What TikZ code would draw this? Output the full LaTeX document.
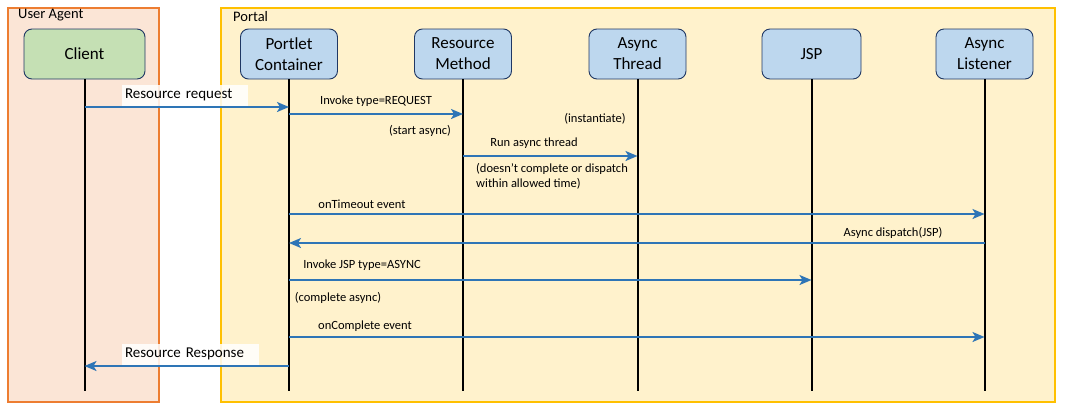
\documentclass[tikz,border=0pt]{standalone}
\usepackage{fontspec}
\setmainfont{Carlito}
\usetikzlibrary{arrows.meta}
\definecolor{uaFill}{HTML}{FBE5D6}
\definecolor{uaLine}{HTML}{ED7D31}
\definecolor{ptFill}{HTML}{FFF2CC}
\definecolor{ptLine}{HTML}{FFC000}
\definecolor{actBlue}{HTML}{BDD7EE}
\definecolor{actGreen}{HTML}{C5E0B4}
\definecolor{actLine}{HTML}{203864}
\definecolor{msgBlue}{HTML}{2E75B6}
\tikzset{
  group/.style={line width=2pt},
  actor/.style={draw=actLine, line width=0.9pt, rounded corners=8pt,
    minimum height=50pt, align=center, font=\fontsize{17}{21}\selectfont, inner sep=0pt},
  lifeline/.style={line width=2pt, black},
  msg/.style={draw=msgBlue, line width=1.8pt,
    -{Stealth[length=12pt,width=10pt,inset=3pt]}},
  lbl/.style={font=\fontsize{12.5}{15}\selectfont, inner sep=0pt, text=black},
  biglbl/.style={font=\fontsize{15}{18}\selectfont, inner xsep=3pt, inner ysep=0pt,
    minimum height=21pt, fill=white, fill opacity=0.85, text opacity=1, align=left},
  grplbl/.style={font=\fontsize{14.5}{17}\selectfont, inner sep=0pt, anchor=west}
}
\begin{document}
\begin{tikzpicture}[x=1pt, y=-1pt]
\useasboundingbox (0,0) rectangle (1066,413);
% swimlane groups
\draw[group, draw=uaLine, fill=uaFill] (8,8) rectangle (159,402);
\draw[group, draw=ptLine, fill=ptFill] (221,8) rectangle (1055,402);
\node[grplbl] (uaTitle) at (18,15.5) {User Agent};
\node[grplbl] (ptTitle) at (233,17) {Portal};

% participants
\node[actor, fill=actGreen, minimum width=121pt] (client) at (84.5,54) {Client};
\node[actor, fill=actBlue, minimum width=97pt] (portlet) at (289,54) {Portlet\\Container};
\node[actor, fill=actBlue, minimum width=97pt] (resource) at (463,54) {Resource\\Method};
\node[actor, fill=actBlue, minimum width=97pt] (thread) at (637.5,54) {Async\\Thread};
\node[actor, fill=actBlue, minimum width=99pt] (jsp) at (811.5,54) {JSP};
\node[actor, fill=actBlue, minimum width=97pt] (listener) at (984.5,54) {Async\\Listener};

% lifelines
\foreach \p in {client,portlet,resource,thread,jsp,listener}{
  \coordinate (\p-end) at (\p.south |- 0,391);
  \draw[lifeline] (\p.south) -- (\p-end);
}

% messages
\node[biglbl, text width=120pt] (reqLbl) at (185,95) {Resource request};
\draw[msg] (client |- 0,107) -- (portlet |- 0,107);

\node[lbl] (invLbl) at (376,101) {Invoke type=REQUEST};
\draw[msg] (portlet |- 0,114) -- (resource |- 0,114);
\node[lbl] (startLbl) at (420,131) {(start async)};
\node[lbl] (instLbl) at (595,119) {(instantiate)};

\node[lbl] (runLbl) at (534,143) {Run async thread};
\draw[msg] (resource |- 0,156) -- (thread |- 0,156);
\node[lbl, anchor=north west, align=left] (noteLbl) at (476,163)
  {(doesn't complete or dispatch\\within allowed time)};

\node[lbl] (toLbl) at (362,204) {onTimeout event};
\draw[msg] (portlet |- 0,214) -- (listener |- 0,214);

\node[lbl] (dispLbl) at (893,233) {Async dispatch(JSP)};
\draw[msg] (listener |- 0,243) -- (portlet |- 0,243);

\node[lbl] (jspLbl) at (362,265) {Invoke JSP type=ASYNC};
\draw[msg] (portlet |- 0,280) -- (jsp |- 0,280);
\node[lbl] (compLbl) at (338,298) {(complete async)};

\node[lbl] (ocLbl) at (365,326) {onComplete event};
\draw[msg] (portlet |- 0,337) -- (listener |- 0,337);

\node[biglbl, text width=131pt] (respLbl) at (190.5,354) {Resource Response};
\draw[msg] (portlet |- 0,366) -- (client |- 0,366);
\end{tikzpicture}
\end{document}
